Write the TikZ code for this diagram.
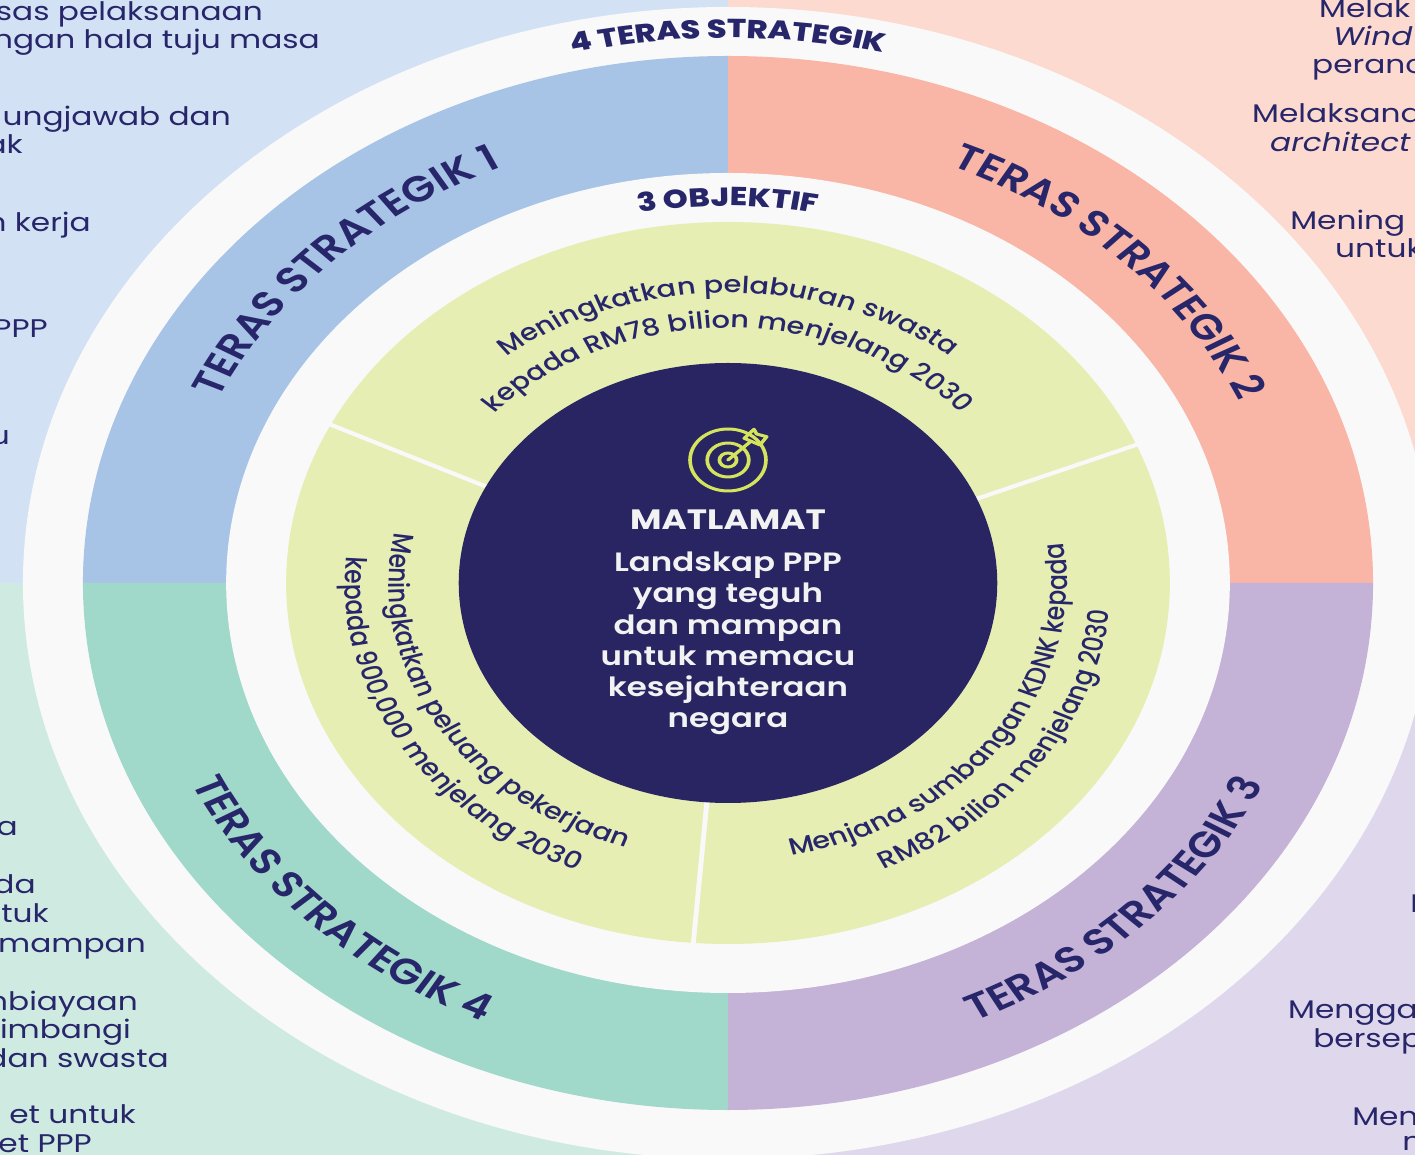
\documentclass[tikz,border=0pt]{standalone}
\usepackage{fontspec}
\setmainfont{Poppins}
\newfontfamily\popmed{Poppins Medium}
\newfontfamily\popsemi{Poppins SemiBold}
\newfontfamily\popxb{Poppins ExtraBold}
\usetikzlibrary{decorations.text}
\definecolor{bgA}{HTML}{D2E1F3}
\definecolor{bgB}{HTML}{FDDAD0}
\definecolor{bgC}{HTML}{CFEAE1}
\definecolor{bgD}{HTML}{DFD8EC}
\definecolor{bandA}{HTML}{A7C4E6}
\definecolor{bandB}{HTML}{F9B5A6}
\definecolor{bandC}{HTML}{A0D8CA}
\definecolor{bandD}{HTML}{C4B2D7}
\definecolor{objgreen}{HTML}{E6EEB4}
\definecolor{navy}{HTML}{282562}
\definecolor{ringwhite}{HTML}{F9F9FA}
\definecolor{ink}{HTML}{27266A}
\definecolor{goalwhite}{HTML}{F2F2F2}
\definecolor{iconlime}{HTML}{D4E45C}
\newcommand\terasfont{\popsemi\fontsize{36}{40}\selectfont\color{ink}}
\newcommand\headfont{\popxb\fontsize{26}{30}\selectfont\color{ink}}
\newcommand\objfont{\popmed\fontsize{23.5}{28}\selectfont\color{ink}}
\begin{document}
\begin{tikzpicture}[x=1pt,y=1pt,
  bgtxt/.style={font=\fontsize{25.5}{28}\selectfont, text=ink, inner sep=0pt},
  divider/.style={draw=ringwhite, line width=4pt},
  goaltxt/.style={font=\popsemi\fontsize{26.5}{30}\selectfont, text=goalwhite, inner sep=0pt, anchor=base},
  icon/.style={draw=iconlime, line width=3pt, line join=round, line cap=round},
  arctext/.style={decorate, decoration={text along path, text align=center, text={#1}}}]
\useasboundingbox (-728,-572) rectangle (687,583);
\clip (-728,-572) rectangle (687,583);
\fill[bgA] (-728,0) rectangle (0,583);
\fill[bgB] (0,0) rectangle (687,583);
\fill[bgC] (-728,-572) rectangle (0,0);
\fill[bgD] (0,-572) rectangle (687,0);
\begin{scope}[transform canvas={xscale=1.224}]
  % background side texts (cut by the page edge)
  \node[bgtxt, anchor=base east] (tl1) at (-379.9,562) {sas pelaksanaan};
  \node[bgtxt, anchor=base east] (tl2) at (-333.3,534) {ngan hala tuju masa};
  \node[bgtxt, anchor=base east] (tl3) at (-406,457) {ungjawab dan};
  \node[bgtxt, anchor=base east] (tl4) at (-576,429) {ak};
  \node[bgtxt, anchor=base east] (tl5) at (-520.4,351) {n kerja};
  \node[bgtxt, anchor=base east] (tl6) at (-555.6,245) {PPP};
  \node[bgtxt, anchor=base east] (tl7) at (-586.6,138) {u};
  \node[bgtxt, anchor=base east] (bl1) at (-580,-252) {a};
  \node[bgtxt, anchor=base east] (bl2) at (-565.4,-310) {da};
  \node[bgtxt, anchor=base east] (bl3) at (-554.7,-339) {tuk};
  \node[bgtxt, anchor=base east] (bl4) at (-475.5,-369) {mampan};
  \node[bgtxt, anchor=base east] (bl5) at (-482,-427) {nbiayaan};
  \node[bgtxt, anchor=base east] (bl6) at (-487.7,-455) {imbangi};
  \node[bgtxt, anchor=base east] (bl7) at (-456.7,-484) {dan swasta};
  \node[bgtxt, anchor=base east] (bl8) at (-483.7,-540) {et untuk};
  \node[bgtxt, anchor=base east] (bl9) at (-519.6,-569) {et PPP};
  \node[bgtxt, anchor=base west] (tr1) at (482.8,565) {Melak};
  \node[bgtxt, anchor=base west] (tr2) at (494.3,537) {\itshape Wind};
  \node[bgtxt, anchor=base west] (tr3) at (477.1,509) {peranc};
  \node[bgtxt, anchor=base west] (tr4) at (428.1,460) {Melaksana};
  \node[bgtxt, anchor=base west] (tr5) at (442.8,431) {\itshape architect};
  \node[bgtxt, anchor=base west] (tr6) at (459.2,353) {Mening};
  \node[bgtxt, anchor=base west] (tr7) at (495.9,325) {untuk};
  \node[bgtxt, anchor=base west] (br1) at (557.2,-329) {M};
  \node[bgtxt, anchor=base west] (br2) at (457.5,-435) {Mengga};
  \node[bgtxt, anchor=base west] (br3) at (478,-464) {bersep};
  \node[bgtxt, anchor=base west] (br4) at (509.8,-542) {Men};
  \node[bgtxt, anchor=base west] (br5) at (550.7,-567) {n};
  % rings
  \fill[ringwhite] (0,0) circle[radius=576];
  \fill[bandA] (0,0) -- (180:527) arc[start angle=180,end angle=90,radius=527] -- cycle;
  \fill[bandB] (0,0) -- (90:527) arc[start angle=90,end angle=0,radius=527] -- cycle;
  \fill[bandD] (0,0) -- (0:527) arc[start angle=0,end angle=-90,radius=527] -- cycle;
  \fill[bandC] (0,0) -- (-90:527) arc[start angle=-90,end angle=-180,radius=527] -- cycle;
  \fill[ringwhite] (0,0) circle[radius=410];
  \fill[objgreen] (0,0) circle[radius=361];
  \draw[divider] (154:215) -- (154:363);
  \draw[divider] (22.5:215) -- (22.5:363);
  \draw[divider] (265.5:215) -- (265.5:363);
  \fill[navy] (0,0) circle[radius=220];
  % ring titles
  \path[arctext={|\headfont|4 TERAS STRATEGIK}] (130:545) arc[start angle=130,end angle=50,radius=545];
  \path[arctext={|\headfont|3 OBJEKTIF}] (120:377) arc[start angle=120,end angle=60,radius=377];
  % strategic thrusts
  \path[arctext={|\terasfont|TERAS STRATEGIK 1}] (175:455) arc[start angle=175,end angle=95,radius=455];
  \path[arctext={|\terasfont|TERAS STRATEGIK 2}] (85:455) arc[start angle=85,end angle=5,radius=455];
  \path[arctext={|\terasfont|TERAS STRATEGIK 3}] (-85:482) arc[start angle=-85,end angle=-5,radius=482];
  \path[arctext={|\terasfont|TERAS STRATEGIK 4}] (185:482) arc[start angle=185,end angle=265,radius=482];
  % objectives
  \path[arctext={|\objfont|Meningkatkan pelaburan swasta}] (150:290) arc[start angle=150,end angle=30,radius=290];
  \path[arctext={|\objfont|kepada RM78 bilion menjelang 2030}] (150:255) arc[start angle=150,end angle=30,radius=255];
  \path[arctext={|\objfont|Menjana sumbangan KDNK kepada}] (-100:277) arc[start angle=-100,end angle=29,radius=277];
  \path[arctext={|\objfont|RM82 bilion menjelang 2030}] (-100:313) arc[start angle=-100,end angle=29,radius=313];
  \path[arctext={|\objfont|Meningkatkan peluang pekerjaan}] (150:277) arc[start angle=150,end angle=272,radius=277];
  \path[arctext={|\objfont|kepada 900,000 menjelang 2030}] (150:313) arc[start angle=150,end angle=272,radius=313];
  % target icon
  \draw[icon] (0,123) circle[radius=31];
  \draw[icon] (0,123) circle[radius=17];
  \draw[icon] (0,123) circle[radius=7];
  \draw[icon] (0,123) -- (18,141);
  \draw[icon] (13.3,144.7) -- (21.2,153.7) -- (23.4,149) -- (31.6,146.3) -- (26.1,138) -- cycle;
  % goal
  \node[anchor=base, inner sep=0pt, text=goalwhite, font=\bfseries\fontsize{28}{30}\selectfont] (goal) at (0,53) {MATLAMAT};
  \node[goaltxt] (g1) at (0,11) {Landskap PPP};
  \node[goaltxt] (g2) at (0,-20) {yang teguh};
  \node[goaltxt] (g3) at (0,-52) {dan mampan};
  \node[goaltxt] (g4) at (0,-83) {untuk memacu};
  \node[goaltxt] (g5) at (0,-114) {kesejahteraan};
  \node[goaltxt] (g6) at (0,-145) {negara};
\end{scope}
\end{tikzpicture}
\end{document}
